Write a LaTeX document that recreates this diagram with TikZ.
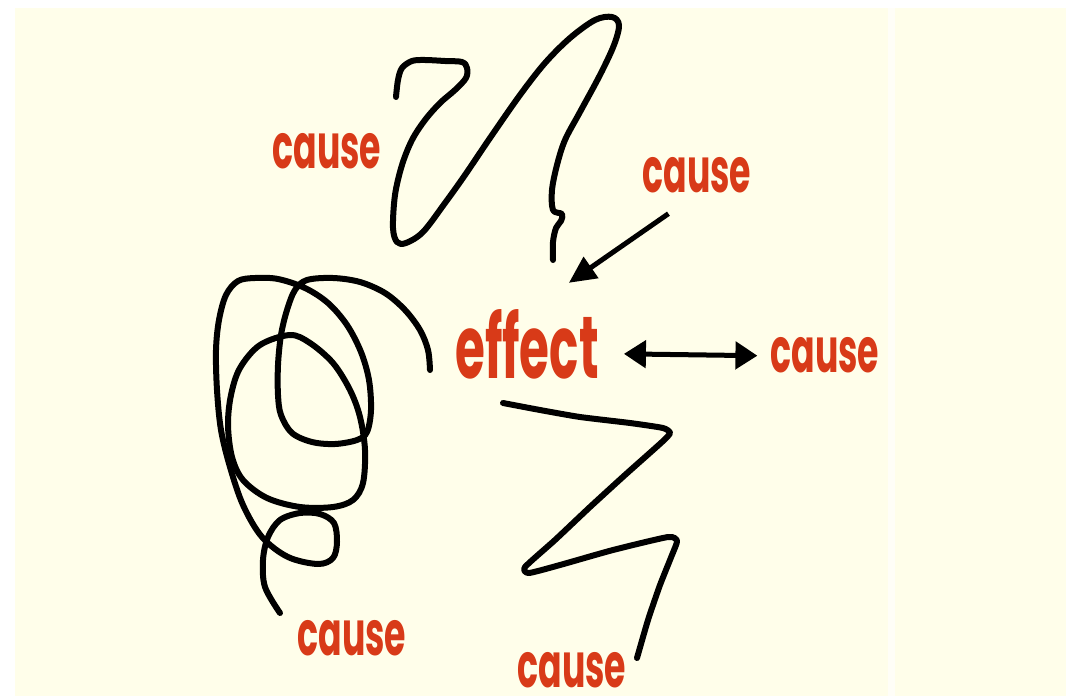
\documentclass[tikz,border=0pt]{standalone}
\usepackage{fontspec}
\usepackage{xcolor}
\usepackage{tikz}
\usetikzlibrary{arrows.meta, positioning}
\newfontfamily\causefont[FakeStretch=0.56]{Poppins}
\newfontfamily\effectfont[FakeStretch=0.55]{Poppins}
\definecolor{causered}{RGB}{216,58,24}
\definecolor{cream}{RGB}{255,254,234}

\begin{document}
\begin{tikzpicture}[
  x=1pt, y=-1pt,
  lbl/.style={text=causered, inner sep=1pt, anchor=base, font=\causefont\bfseries\fontsize{62}{62}\selectfont},
  big/.style={lbl, inner sep=2pt, font=\effectfont\bfseries\fontsize{88}{88}\selectfont},
  scrib/.style={line width=6pt, line cap=round, line join=round},
  arr/.style={-{Triangle[length=27pt,width=25pt]}, line width=5pt},
  dbl/.style={{Triangle[length=22pt,width=27pt]}-{Triangle[length=22pt,width=27pt]}, line width=5pt}
]
\useasboundingbox (0,0) rectangle (1066,696);

% fond
\fill[white] (0,0) rectangle (1066,696);
\fill[cream] (15,8) rectangle (1066,696);
\fill[white!60!cream] (888,8) rectangle (895,696);

% textes
\node[big] (effect) at (527,378) {effect};
\node[lbl] (ctopl) at (327,168) {cause};
\node[lbl] (ctopr) at (697,192) {cause};
\node[lbl] (cright) at (825,372) {cause};
\node[lbl] (cbotl) at (352,655) {cause};
\node[lbl] (cbot) at (572,687) {cause};

% fleches
\draw[arr] ([shift={(27,20)}]ctopr.south west) -- ([shift={(-32,-24)}]effect.north east);
\draw[dbl] ([shift={(23,10)}]effect.east) -- ([shift={(-12,1)}]cright.west);

% gribouillis du haut
\draw[scrib] plot[smooth, tension=0.55] coordinates {
  (396,97) (398,80) (402,68) (412,61) (425,60) (445,61) (462,62) (467,68)
  (466,78) (455,90) (440,103) (425,120) (412,140) (402,165) (395,195)
  (393,228) (397,242) (406,243) (423,232) (445,203) (465,175) (490,138)
  (520,95) (545,63) (570,38) (595,20) (612,17) (619,25) (614,45) (600,75)
  (580,112) (565,140) (557,165) (552,190) (553,210) (562,214) (561,221)
  (556,228) (553,242) (553,260)};

% boucles de gauche
\draw[scrib] plot[smooth, tension=0.55] coordinates {
  (430,370) (428,350) (420,330) (405,310) (385,293) (360,282) (333,278)
  (307,280) (295,290) (287,310) (281,335) (278,365) (278,395) (281,415)
  (292,433) (312,442) (335,444) (357,440) (367,432) (371,410) (369,380)
  (361,352) (347,325) (328,303) (305,288) (278,279) (255,278) (238,281)
  (226,295) (219,320) (216,350) (217,390) (221,430) (230,467) (243,505)
  (262,537) (288,557) (318,564) (333,558) (337,542) (334,523) (320,514)
  (300,513) (280,520) (268,537) (263,560) (265,587) (280,613)};
\draw[scrib] plot[smooth cycle, tension=0.55] coordinates {
  (290,335) (310,343) (333,363) (350,390) (360,417) (365,450) (363,483)
  (353,500) (333,507) (300,507) (267,498) (243,480) (232,457) (228,425)
  (231,395) (240,368) (260,345)};

% zigzag du bas
\draw[scrib] plot[smooth, tension=0.35] coordinates {
  (503,403) (540,410) (580,417) (630,423) (663,428) (670,433) (662,442)
  (625,475) (590,507) (555,540) (525,567) (529,573) (560,565) (613,550)
  (668,537) (677,541) (672,555) (660,585) (648,620) (637,658)};
\end{tikzpicture}
\end{document}
